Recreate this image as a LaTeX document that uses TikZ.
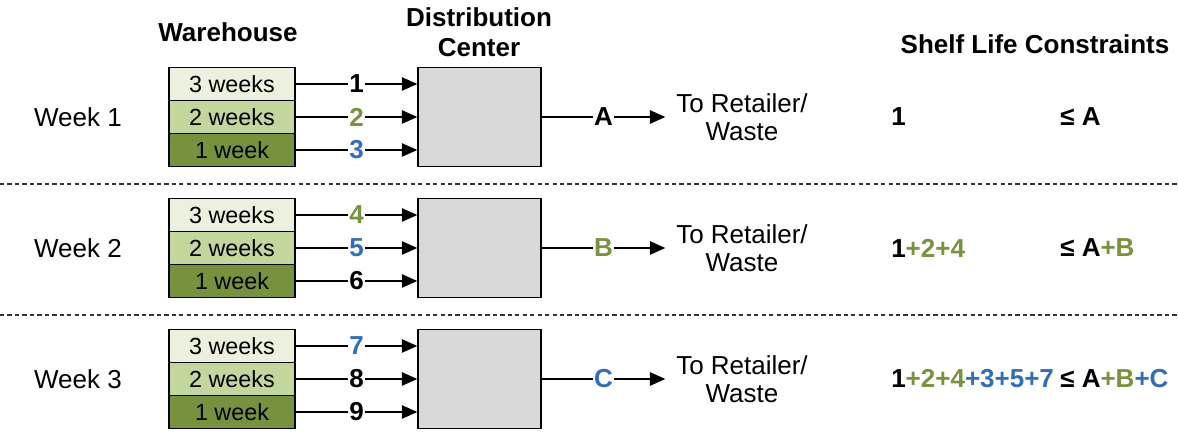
\documentclass[tikz,border=0pt]{standalone}
\usepackage{fontspec}
\setmainfont{Liberation Sans}
\usetikzlibrary{arrows.meta}
\definecolor{wlight}{HTML}{EBF1DE}
\definecolor{wmid}{HTML}{C3D69B}
\definecolor{wdark}{HTML}{76923C}
\definecolor{dcgray}{HTML}{D9D9D9}
\definecolor{tgreen}{HTML}{77933C}
\definecolor{tblue}{HTML}{2F6EBA}
\newcommand{\bigtxt}{\fontsize{19.5}{21}\selectfont}
\newcommand{\boxtxt}{\fontsize{17.5}{20}\selectfont}
\begin{document}
\begin{tikzpicture}[x=0.75pt,y=-0.75pt,
  wbox/.style={draw=black, line width=1.1pt, minimum width=94.5pt, minimum height=24.75pt, inner sep=0pt, font=\boxtxt},
  dcbox/.style={draw=black, line width=1.1pt, fill=dcgray, minimum width=92.25pt, minimum height=74.25pt, inner sep=0pt},
  arr/.style={line width=1.1pt, -{Triangle[length=11.5pt,width=10pt]}},
  lab/.style={fill=white, inner xsep=1pt, inner ysep=0pt, font=\bigtxt\bfseries},
  plain/.style={font=\bigtxt, inner sep=0pt},
  hdr/.style={font=\bigtxt\bfseries, inner sep=0pt, align=center},
  outtxt/.style={font=\bigtxt, align=center, inner ysep=0pt, inner xsep=8pt},
  cons/.style={font=\bigtxt\bfseries, inner sep=0pt, anchor=west},
  sep/.style={line width=0.8pt, draw=black!80, dash pattern=on 3.2pt off 2.4pt}
]
\useasboundingbox (0,0) rectangle (1178,434);

% headers
\node[hdr] (hwh) at (228,32) {Warehouse};
\node[hdr, font=\fontsize{19.5}{22.5}\selectfont\bfseries] (hdc) at (479,32) {Distribution\\Center};
\node[hdr] (hsl) at (1035,44) {Shelf Life Constraints};

% separators
\coordinate (s1l) at (0,184);  \coordinate (s1r) at (1178,184);
\coordinate (s2l) at (0,315);  \coordinate (s2r) at (1178,315);
\draw[sep] (s1l) -- (s1r);
\draw[sep] (s2l) -- (s2r);

% ---------- Week 1 ----------
\node[plain] (wk1) at (78,117) {Week 1};
\node[wbox, fill=wlight] (a1) at (232,84) {3 weeks};
\node[wbox, fill=wmid] (a2) at (232,117) {2 weeks};
\node[wbox, fill=wdark] (a3) at (232,150) {1 week};
\node[dcbox] (dc1) at (479.5,117) {};
\draw[arr] (a1.east) -- node[lab] {1} (a1.east -| dc1.west);
\draw[arr] (a2.east) -- node[lab, text=tgreen] {2} (a2.east -| dc1.west);
\draw[arr] (a3.east) -- node[lab, text=tblue] {3} (a3.east -| dc1.west);
\node[outtxt] (o1) at (742,117) {To Retailer/\\Waste};
\draw[arr] (dc1.east) -- node[lab] {A} (dc1.east -| o1.west);
\node[cons] (c1l) at (891,117) {1};
\node[cons] (c1r) at (1060,117) {≤ A};

% ---------- Week 2 ----------
\node[plain] (wk2) at (78,248) {Week 2};
\node[wbox, fill=wlight] (b1) at (232,215) {3 weeks};
\node[wbox, fill=wmid] (b2) at (232,248) {2 weeks};
\node[wbox, fill=wdark] (b3) at (232,281) {1 week};
\node[dcbox] (dc2) at (479.5,248) {};
\draw[arr] (b1.east) -- node[lab, text=tgreen] {4} (b1.east -| dc2.west);
\draw[arr] (b2.east) -- node[lab, text=tblue] {5} (b2.east -| dc2.west);
\draw[arr] (b3.east) -- node[lab] {6} (b3.east -| dc2.west);
\node[outtxt] (o2) at (742,248) {To Retailer/\\Waste};
\draw[arr] (dc2.east) -- node[lab, text=tgreen] {B} (dc2.east -| o2.west);
\node[cons] (c2l) at (891,248) {1\textcolor{tgreen}{+2+4}};
\node[cons] (c2r) at (1060,248) {≤ A\textcolor{tgreen}{+B}};

% ---------- Week 3 ----------
\node[plain] (wk3) at (78,379) {Week 3};
\node[wbox, fill=wlight] (e1) at (232,346) {3 weeks};
\node[wbox, fill=wmid] (e2) at (232,379) {2 weeks};
\node[wbox, fill=wdark] (e3) at (232,412) {1 week};
\node[dcbox] (dc3) at (479.5,379) {};
\draw[arr] (e1.east) -- node[lab, text=tblue] {7} (e1.east -| dc3.west);
\draw[arr] (e2.east) -- node[lab] {8} (e2.east -| dc3.west);
\draw[arr] (e3.east) -- node[lab] {9} (e3.east -| dc3.west);
\node[outtxt] (o3) at (742,379) {To Retailer/\\Waste};
\draw[arr] (dc3.east) -- node[lab, text=tblue] {C} (dc3.east -| o3.west);
\node[cons] (c3l) at (891,379) {1\textcolor{tgreen}{+2+4}\textcolor{tblue}{+3+5+7}};
\node[cons] (c3r) at (1060,379) {≤ A\textcolor{tgreen}{+B}\textcolor{tblue}{+C}};
\end{tikzpicture}
\end{document}
